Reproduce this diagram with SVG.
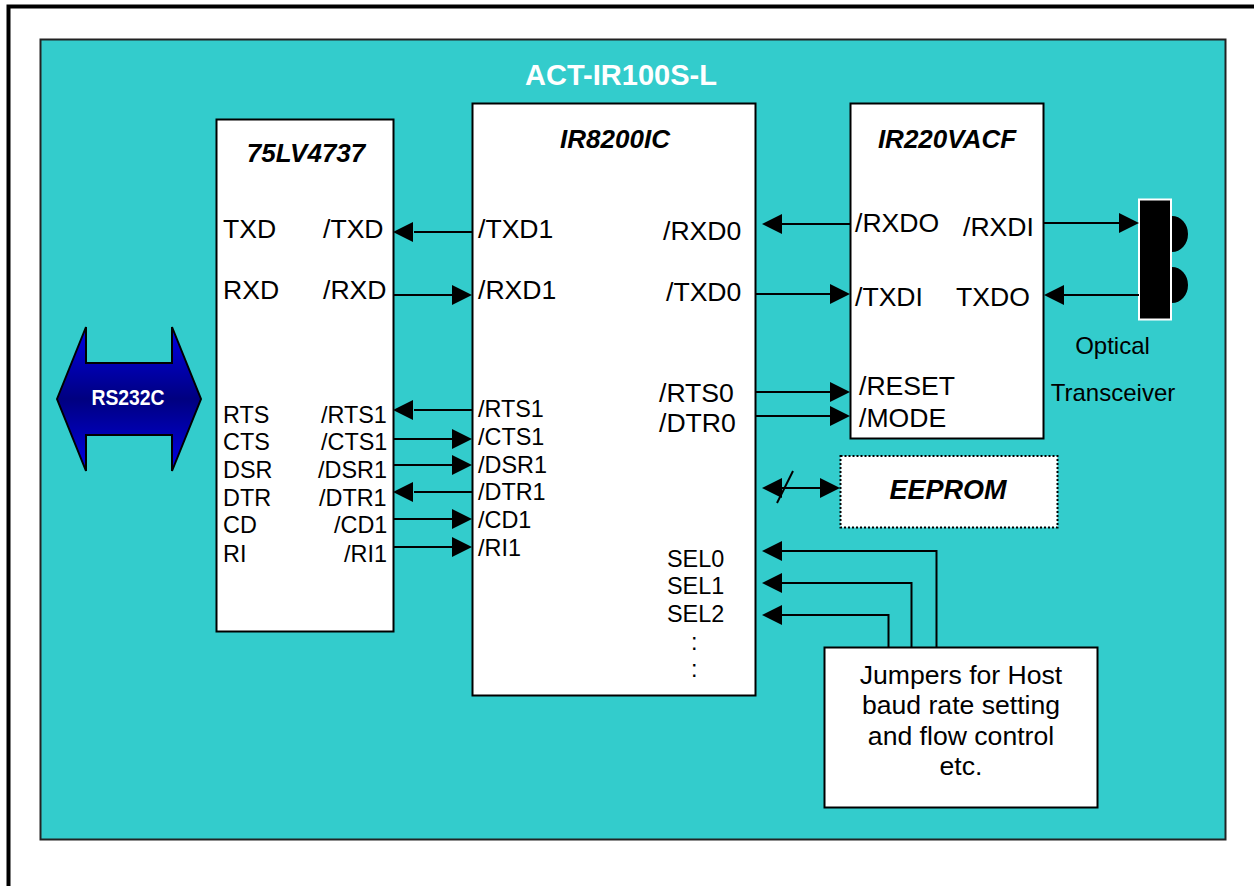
<svg xmlns="http://www.w3.org/2000/svg" width="1254" height="886" viewBox="0 0 1254 886">
<style>
text{font-family:"Liberation Sans",Arial,sans-serif;fill:#000}
.box{fill:#fff;stroke:#000;stroke-width:2}
.t{font-size:26.6px}
.s{font-size:23.4px}
.h{font-size:26px;font-weight:bold;font-style:italic}
.m{text-anchor:middle}
.c{fill:none;stroke:#000;stroke-width:2}
.a{fill:#000;stroke:none}
</style>
<defs>
<linearGradient id="g" x1="0" y1="0" x2="0" y2="1">
<stop offset="0" stop-color="#0000e6"/><stop offset="0.5" stop-color="#000080"/><stop offset="1" stop-color="#0000e6"/>
</linearGradient>
<polygon id="ar" class="a" points="0,0 20,-10 20,10"/>
<polygon id="al" class="a" points="0,0 -20,-10 -20,10"/>
</defs>
<rect width="1254" height="886" fill="#fff"/>
<path d="M8.500 886V6.500H1254" fill="none" stroke="#000" stroke-width="4"/>
<rect id="panel" x="40.500" y="39.500" width="1185" height="800" fill="#33cccc" stroke="#222" stroke-width="2"/>
<text x="621" y="85" class="m" style="font-size:29px;font-weight:bold;fill:#fff">ACT-IR100S-L</text>

<g id="rs232c">
<polygon points="57,399 86,327 86,363 172,363 172,327 201,399 172,471 172,435 86,435 86,471" fill="url(#g)" stroke="#000" stroke-width="2"/>
<text x="128" y="405" class="m" style="font-size:22px;font-weight:bold;fill:#fff" textLength="73" lengthAdjust="spacingAndGlyphs">RS232C</text>
</g>

<g id="n75lv4737">
<rect class="box" x="216.500" y="119.500" width="177" height="512"/>
<text x="306" y="162" class="h m">75LV4737</text>
<text x="223" y="238" class="t">TXD</text><text x="323" y="238" class="t">/TXD</text>
<text x="223" y="299" class="t">RXD</text><text x="323" y="299" class="t">/RXD</text>
<g class="s">
<text x="223" y="423">RTS</text><text x="321" y="423">/RTS1</text>
<text x="223" y="450">CTS</text><text x="321" y="450">/CTS1</text>
<text x="223" y="478">DSR</text><text x="318" y="478">/DSR1</text>
<text x="223" y="506">DTR</text><text x="319" y="506">/DTR1</text>
<text x="223" y="533">CD</text><text x="334" y="533">/CD1</text>
<text x="223" y="562">RI</text><text x="344" y="562">/RI1</text>
</g>
</g>

<g id="ir8200ic">
<rect class="box" x="472.500" y="103.500" width="283" height="592"/>
<text x="615" y="148" class="h m">IR8200IC</text>
<text x="478" y="238" class="t">/TXD1</text>
<text x="478" y="299" class="t">/RXD1</text>
<g class="s">
<text x="478" y="417">/RTS1</text>
<text x="478" y="445">/CTS1</text>
<text x="478" y="473">/DSR1</text>
<text x="478" y="500">/DTR1</text>
<text x="478" y="528">/CD1</text>
<text x="478" y="556">/RI1</text>
<text x="667" y="567">SEL0</text>
<text x="667" y="594">SEL1</text>
<text x="667" y="622">SEL2</text>
<text x="691" y="650">:</text>
<text x="691" y="677">:</text>
</g>
<text x="663" y="240" class="t">/RXD0</text>
<text x="666" y="301" class="t">/TXD0</text>
<text x="659" y="402" class="t">/RTS0</text>
<text x="659" y="432" class="t">/DTR0</text>
</g>

<g id="ir220vacf">
<rect class="box" x="850.500" y="103.500" width="193" height="335"/>
<text x="947" y="148" class="h m">IR220VACF</text>
<text x="855" y="232" class="t">/RXDO</text>
<text x="963" y="236" class="t">/RXDI</text>
<text x="855" y="306" class="t">/TXDI</text>
<text x="956" y="306" class="t">TXDO</text>
<text x="859" y="395" class="t">/RESET</text>
<text x="859" y="427" class="t">/MODE</text>
</g>

<g id="eeprom">
<rect x="840.500" y="456" width="217" height="71.500" fill="#fff" stroke="#000" stroke-width="2" stroke-dasharray="2 2"/>
<text x="948" y="499" class="h m" style="font-size:27px">EEPROM</text>
</g>

<g id="jumpers">
<rect class="box" x="824.500" y="647.500" width="273" height="160"/>
<g class="t m">
<text x="961" y="684">Jumpers for Host</text>
<text x="961" y="714">baud rate setting</text>
<text x="961" y="745">and flow control</text>
<text x="961" y="775">etc.</text>
</g>
</g>

<g id="transceiver">
<path d="M1172 216a16 18 0 0 1 0 36zM1172 267a16 18 0 0 1 0 36z" fill="#000"/>
<rect x="1139" y="199.500" width="32" height="120" fill="#000" stroke="#fff" stroke-width="2"/>
<text x="1112.500" y="354" class="m" style="font-size:24px">Optical</text>
<text x="1113" y="401" class="m" style="font-size:24px">Transceiver</text>
</g>

<g id="connectors">
<path class="c" d="M414 232H472M393 295H452M414 410H472M393 439H452M393 465H452M414 492H472M393 519H452M393 547H452M782 224H850M756 294H830M756 392H830M756 416H830M782 488H820M1043 223H1120M1139 295H1064M782 551H936.500V647M782 583H911.500V647M782 615H888.500V647"/>
<path d="M777 503L793 471" fill="none" stroke="#000" stroke-width="2"/>
<use href="#ar" x="393" y="232"/>
<use href="#al" x="472" y="295"/>
<use href="#ar" x="393" y="410"/>
<use href="#al" x="472" y="439"/>
<use href="#al" x="472" y="465"/>
<use href="#ar" x="393" y="492"/>
<use href="#al" x="472" y="519"/>
<use href="#al" x="472" y="547"/>
<use href="#ar" x="762" y="224"/>
<use href="#al" x="850" y="294"/>
<use href="#al" x="850" y="392"/>
<use href="#al" x="850" y="416"/>
<use href="#ar" x="762" y="488"/>
<use href="#al" x="840" y="488"/>
<use href="#al" x="1139" y="223"/>
<use href="#ar" x="1044" y="295"/>
<use href="#ar" x="762" y="551"/>
<use href="#ar" x="762" y="583"/>
<use href="#ar" x="762" y="615"/>
</g>
</svg>
